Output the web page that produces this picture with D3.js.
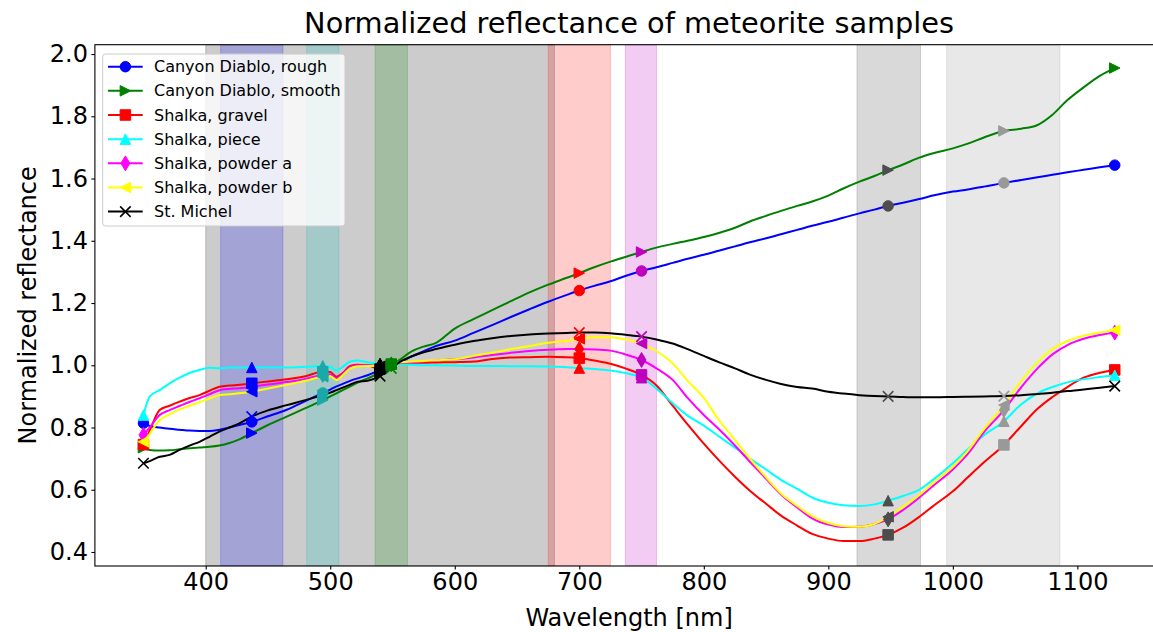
<!DOCTYPE html>
<html>
<head>
<meta charset="utf-8">
<script src="https://cdn.jsdelivr.net/npm/d3@7"></script>
<style>
  body { margin: 0; background: #fff; }
  svg { display: block; font-family: "DejaVu Sans", sans-serif; }
</style>
</head>
<body>
<svg></svg>
<script>
// wavelength grid [nm], shared by all samples
const wavelengths = [350, 355, 363, 371, 379, 387, 395, 403, 411, 419, 427, 437, 450, 465, 480, 494, 500, 505, 510, 516,
  522, 530, 540, 549, 556, 565, 575, 585, 600, 615, 630, 645, 660, 675, 690, 700, 712, 725, 737, 750,
  762, 775, 787, 800, 812, 825, 837, 850, 862, 875, 887, 900, 912, 925, 937, 948, 960, 973, 985, 1000,
  1012, 1025, 1041, 1055, 1068, 1080, 1092, 1105, 1118, 1130]

const cdRough = [0.814, 0.805, 0.800, 0.796, 0.793, 0.790, 0.789, 0.789, 0.793, 0.800, 0.808, 0.818, 0.836, 0.857, 0.885, 0.911, 0.922, 0.932, 0.940, 0.950,
  0.958, 0.968, 0.985, 1.000, 1.010, 1.028, 1.045, 1.062, 1.079, 1.104, 1.129, 1.155, 1.180, 1.204, 1.226, 1.240, 1.255, 1.270, 1.287, 1.303,
  1.315, 1.329, 1.342, 1.355, 1.368, 1.382, 1.395, 1.408, 1.421, 1.435, 1.448, 1.461, 1.474, 1.488, 1.500, 1.512, 1.522, 1.534, 1.546, 1.558,
  1.565, 1.574, 1.586, 1.595, 1.604, 1.612, 1.620, 1.628, 1.636, 1.643]

const cdSmooth = [0.735, 0.728, 0.726, 0.727, 0.730, 0.733, 0.736, 0.738, 0.742, 0.750, 0.762, 0.782, 0.808, 0.835, 0.862, 0.888, 0.900, 0.910, 0.920, 0.932,
  0.944, 0.958, 0.976, 0.998, 1.018, 1.044, 1.060, 1.072, 1.118, 1.148, 1.177, 1.206, 1.234, 1.259, 1.281, 1.296, 1.315, 1.333, 1.348, 1.364,
  1.378, 1.390, 1.400, 1.412, 1.425, 1.442, 1.462, 1.480, 1.496, 1.512, 1.526, 1.545, 1.568, 1.590, 1.608, 1.627, 1.645, 1.667, 1.682, 1.697,
  1.712, 1.732, 1.753, 1.760, 1.772, 1.805, 1.852, 1.893, 1.930, 1.955]

const shGravel = [0.745, 0.790, 0.856, 0.870, 0.883, 0.895, 0.904, 0.918, 0.931, 0.935, 0.937, 0.942, 0.948, 0.955, 0.965, 0.979, 0.978, 0.963, 0.975, 0.998,
  1.002, 1.000, 0.988, 1.004, 1.008, 1.008, 1.008, 1.009, 1.010, 1.012, 1.020, 1.025, 1.026, 1.027, 1.026, 1.023, 1.015, 1.005, 0.990, 0.969,
  0.935, 0.870, 0.810, 0.748, 0.695, 0.642, 0.597, 0.555, 0.517, 0.485, 0.458, 0.443, 0.435, 0.435, 0.443, 0.455, 0.478, 0.513, 0.550, 0.595,
  0.640, 0.688, 0.744, 0.805, 0.860, 0.898, 0.930, 0.960, 0.976, 0.985]

const shPiece = [0.840, 0.899, 0.920, 0.942, 0.960, 0.975, 0.985, 0.992, 0.990, 0.993, 0.992, 0.993, 0.993, 0.993, 0.995, 0.998, 0.995, 0.983, 0.995, 1.012,
  1.015, 1.010, 1.005, 1.005, 1.004, 1.002, 1.000, 1.000, 0.999, 0.998, 0.998, 0.997, 0.997, 0.996, 0.994, 0.991, 0.988, 0.983, 0.975, 0.960,
  0.925, 0.878, 0.838, 0.806, 0.772, 0.735, 0.700, 0.665, 0.632, 0.603, 0.575, 0.558, 0.550, 0.548, 0.553, 0.565, 0.580, 0.600, 0.635, 0.685,
  0.730, 0.775, 0.820, 0.875, 0.910, 0.930, 0.945, 0.955, 0.962, 0.968]

const shPowderA = [0.776, 0.800, 0.840, 0.856, 0.869, 0.882, 0.894, 0.907, 0.920, 0.924, 0.926, 0.931, 0.938, 0.946, 0.956, 0.969, 0.970, 0.958, 0.972, 0.995,
  1.000, 1.000, 0.998, 1.003, 1.008, 1.010, 1.012, 1.015, 1.019, 1.025, 1.033, 1.040, 1.046, 1.050, 1.052, 1.052, 1.051, 1.047, 1.035, 1.017,
  0.990, 0.953, 0.895, 0.840, 0.795, 0.742, 0.690, 0.635, 0.585, 0.543, 0.508, 0.488, 0.480, 0.481, 0.490, 0.505, 0.535, 0.575, 0.615, 0.665,
  0.715, 0.785, 0.856, 0.930, 0.990, 1.035, 1.065, 1.085, 1.097, 1.105]

const shPowderB = [0.754, 0.780, 0.824, 0.842, 0.858, 0.870, 0.881, 0.893, 0.904, 0.907, 0.910, 0.915, 0.925, 0.937, 0.950, 0.963, 0.965, 0.953, 0.968, 0.990,
  0.997, 0.998, 0.997, 1.003, 1.010, 1.012, 1.014, 1.016, 1.019, 1.030, 1.040, 1.052, 1.062, 1.072, 1.079, 1.085, 1.090, 1.090, 1.083, 1.070,
  1.045, 1.006, 0.950, 0.895, 0.825, 0.760, 0.700, 0.640, 0.588, 0.548, 0.515, 0.493, 0.483, 0.481, 0.490, 0.513, 0.545, 0.583, 0.625, 0.674,
  0.725, 0.795, 0.872, 0.950, 1.010, 1.052, 1.078, 1.095, 1.105, 1.113]

const stMichel = [0.685, 0.692, 0.706, 0.712, 0.728, 0.742, 0.754, 0.770, 0.787, 0.800, 0.813, 0.835, 0.855, 0.872, 0.888, 0.904, 0.912, 0.920, 0.928, 0.938,
  0.947, 0.950, 0.965, 0.990, 1.011, 1.028, 1.042, 1.052, 1.066, 1.078, 1.087, 1.094, 1.099, 1.102, 1.104, 1.105, 1.105, 1.103, 1.098, 1.092,
  1.083, 1.070, 1.052, 1.030, 1.010, 0.990, 0.970, 0.953, 0.940, 0.930, 0.925, 0.915, 0.909, 0.904, 0.901, 0.900, 0.898, 0.897, 0.897, 0.898,
  0.899, 0.900, 0.901, 0.904, 0.908, 0.912, 0.917, 0.922, 0.928, 0.933]

const seriesNames = ["Canyon Diablo, rough", "Canyon Diablo, smooth", "Shalka, gravel", "Shalka, piece",
  "Shalka, powder a", "Shalka, powder b", "St. Michel"]
const seriesValues = [cdRough, cdSmooth, shGravel, shPiece, shPowderA, shPowderB, stMichel]
const seriesColors = ["#0000ff", "#008000", "#ff0000", "#00ffff", "#ff00ff", "#ffff00", "#000000"]
const seriesMarkers = ["circle", "right", "square", "up", "diamond", "left", "x"]

// filter bands: edges, centre and colour
const bandStart = [400, 412, 481, 536, 675, 737, 923, 995]
const bandEnd = [680, 462, 507, 562, 725, 762, 974, 1086]
const bandCenter = [540, 437, 494, 549, 700, 750, 948, 1041]
const bandColors = ["#000000", "#0000ff", "#00bfbf", "#008000", "#ff0000", "#bf00bf", "#404040", "#8c8c8c"]
const bandMarkerColors = ["#000000", "#0000ff", "#1aa8a8", "#008000", "#ff0000", "#bf00bf", "#4d4d4d", "#999999"]

const xTicks = [400, 500, 600, 700, 800, 900, 1000, 1100]
const yTicks = [0.4, 0.6, 0.8, 1.0, 1.2, 1.4, 1.6, 1.8, 2.0]

const width = 1153,
      height = 632,
      plotLeft = 94.9, plotRight = 1163.3,
      plotTop = 44.7, plotBottom = 566

const svg = d3.select("svg")
  .attr("width", width)
  .attr("height", height)

const x = d3.scaleLinear().domain([311, 1169]).range([plotLeft, plotRight])
const y = d3.scaleLinear().domain([0.355, 2.03]).range([plotBottom, plotTop])

svg.append("clipPath").attr("id", "plot")
  .append("rect")
    .attr("x", plotLeft).attr("y", plotTop)
    .attr("width", plotRight - plotLeft).attr("height", plotBottom - plotTop)

const ms = 10.5
function markerPath(type) {
  const h = ms / 2
  if (type === "circle") return d3.symbol(d3.symbolCircle, Math.PI * h * h)()
  if (type === "square") return `M${-h},${-h}H${h}V${h}H${-h}Z`
  if (type === "up") return `M0,${-h}L${h},${h}L${-h},${h}Z`
  if (type === "right") return `M${h},0L${-h},${-h}L${-h},${h}Z`
  if (type === "left") return `M${-h},0L${h},${-h}L${h},${h}Z`
  if (type === "diamond") return `M0,${-h * 1.414}L${h * 0.85},0L0,${h * 1.414}L${-h * 0.85},0Z`
  return `M${-h},${-h}L${h},${h}M${-h},${h}L${h},${-h}`
}

function drawMarker(g, type, color, cx, cy) {
  g.append("path")
    .attr("d", markerPath(type))
    .attr("transform", `translate(${cx},${cy})`)
    .attr("fill", type === "x" ? "none" : color)
    .attr("stroke", color)
    .attr("stroke-width", type === "x" ? 1.6 : 1)
}

// bands
svg.append("g")
  .attr("clip-path", "url(#plot)")
  .selectAll("rect")
  .data(bandStart)
  .join("rect")
    .attr("x", (d) => x(d))
    .attr("y", plotTop)
    .attr("width", (d, i) => x(bandEnd[i]) - x(d))
    .attr("height", plotBottom - plotTop)
    .attr("fill", (d, i) => bandColors[i])
    .attr("fill-opacity", 0.2)
    .attr("stroke", (d, i) => bandColors[i])
    .attr("stroke-opacity", 0.2)

// lines
const line = d3.line()
  .x((d) => x(d[0]))
  .y((d) => y(d[1]))
  .curve(d3.curveMonotoneX)

const plot = svg.append("g").attr("clip-path", "url(#plot)")

seriesValues.forEach((vals, i) => {
  const pts = wavelengths.map((w, j) => [w, vals[j]])
  plot.append("path")
    .attr("d", line(pts))
    .attr("fill", "none")
    .attr("stroke", seriesColors[i])
    .attr("stroke-width", 2)
    .attr("stroke-linejoin", "round")
  const first = pts[0], last = pts[pts.length - 1]
  drawMarker(plot, seriesMarkers[i], seriesColors[i], x(first[0]), y(first[1]))
  drawMarker(plot, seriesMarkers[i], seriesColors[i], x(last[0]), y(last[1]))
})

// band markers on every sample
bandCenter.forEach((c, b) => {
  const j = wavelengths.indexOf(c)
  seriesValues.forEach((vals, i) => {
    drawMarker(plot, seriesMarkers[i], bandMarkerColors[b], x(c), y(vals[j]))
  })
})

// axes
const xAxis = d3.axisBottom(x).tickValues(xTicks).tickSize(3.5).tickPadding(3.5).tickFormat(d3.format("d"))
const yAxis = d3.axisLeft(y).tickValues(yTicks).tickSize(3.5).tickPadding(3.5).tickFormat(d3.format(".1f"))

const gx = svg.append("g").attr("transform", `translate(0, ${plotBottom})`).call(xAxis)
const gy = svg.append("g").attr("transform", `translate(${plotLeft}, 0)`).call(yAxis)
for (const g of [gx, gy]) {
  g.select(".domain").remove()
  g.attr("font-family", "DejaVu Sans").attr("font-size", 24)
  g.selectAll("line").attr("stroke", "#000").attr("stroke-width", 1.1)
  g.selectAll("text").attr("fill", "#000")
}

svg.append("rect")
  .attr("x", plotLeft).attr("y", plotTop)
  .attr("width", plotRight - plotLeft).attr("height", plotBottom - plotTop)
  .attr("fill", "none")
  .attr("stroke", "#000")
  .attr("stroke-width", 1.1)

svg.append("text")
  .attr("x", (plotLeft + plotRight) / 2).attr("y", 33)
  .attr("text-anchor", "middle")
  .attr("font-size", 28.8)
  .text("Normalized reflectance of meteorite samples")

svg.append("text")
  .attr("x", (plotLeft + plotRight) / 2).attr("y", 626)
  .attr("text-anchor", "middle")
  .attr("font-size", 24)
  .text("Wavelength [nm]")

svg.append("text")
  .attr("transform", `translate(36, ${(plotTop + plotBottom) / 2}) rotate(-90)`)
  .attr("text-anchor", "middle")
  .attr("font-size", 24)
  .text("Normalized reflectance")

// legend
const legend = svg.append("g")
legend.append("rect")
  .attr("x", 102.7).attr("y", 54)
  .attr("width", 242.3).attr("height", 172)
  .attr("rx", 3)
  .attr("fill", "#fff")
  .attr("fill-opacity", 0.8)
  .attr("stroke", "#cccccc")

seriesNames.forEach((name, i) => {
  const ly = 66.7 + i * 24.15
  legend.append("line")
    .attr("x1", 108).attr("x2", 142.7)
    .attr("y1", ly).attr("y2", ly)
    .attr("stroke", seriesColors[i])
    .attr("stroke-width", 2)
  drawMarker(legend, seriesMarkers[i], seriesColors[i], 125.4, ly)
  legend.append("text")
    .attr("x", 154).attr("y", ly)
    .attr("dy", "0.35em")
    .attr("font-size", 16)
    .text(name)
})
</script>
</body>
</html>
